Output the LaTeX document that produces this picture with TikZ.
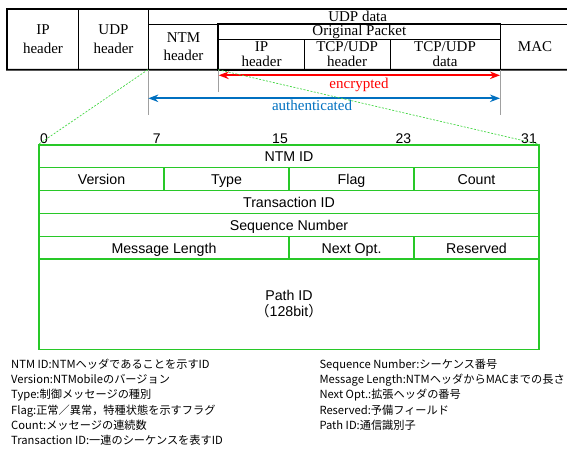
\documentclass[tikz,border=0pt]{standalone}
\usepackage{fontspec}
\setmainfont{Liberation Serif}
\setsansfont{Liberation Sans}
\newfontfamily\cjk{Noto Sans CJK JP}
\usetikzlibrary{arrows.meta}
\definecolor{grn}{RGB}{40,200,40}
\definecolor{dgrn}{RGB}{70,215,70}
\definecolor{ablue}{RGB}{0,112,192}
\definecolor{tickgray}{RGB}{160,160,160}
\begin{document}
\begin{tikzpicture}[x=1pt,y=-1pt,
  cell/.style={draw, line width=0.8pt, inner sep=0pt, align=center, font=\fontsize{15}{18.5}\selectfont},
  icell/.style={cell, font=\fontsize{15}{14.5}\selectfont},
  fld/.style={draw=grn, line width=1.2pt, inner sep=0pt, align=center, text height=14pt, text depth=3pt, font=\sffamily\fontsize{14.2}{16.5}\selectfont},
  num/.style={font=\sffamily\fontsize{14}{16}\selectfont, inner sep=0pt, text height=10pt, text depth=0pt},
  note/.style={font=\cjk\fontsize{11.2}{14}\selectfont, anchor=base west, inner sep=0pt},
  tickline/.style={draw=tickgray, line width=0.8pt},
  dbl/.style={{Stealth[length=10pt,width=7.5pt]}-{Stealth[length=10pt,width=7.5pt]}, line width=1.8pt},
  lbl/.style={font=\fontsize{15}{18}\selectfont, inner sep=0pt, text height=10.5pt, text depth=3pt},
  zoomline/.style={draw=dgrn, line width=0.7pt, dash pattern=on 2pt off 1.5pt}
]
\useasboundingbox (0,0) rectangle (567,450);

% ---- top packet table ----
\node[cell, minimum width=71.4pt, minimum height=60pt] (iph) at (43,39.3) {IP\\header};
\node[cell, minimum width=69.6pt, minimum height=60pt] (udph) at (113.5,39.3) {UDP\\header};
\node[cell, minimum width=418.7pt, minimum height=14.7pt] (udpd) at (357.65,16.65) {UDP data};
\node[cell, minimum width=70.4pt, minimum height=45.3pt] (ntm) at (183.5,46.65) {NTM\\header};
\node[cell, minimum width=281.3pt, minimum height=15.3pt] (orig) at (359.35,31.65) {Original Packet};
\node[icell, minimum width=85.6pt, minimum height=30pt] (oip) at (261.5,54.3) {IP\\header};
\node[icell, minimum width=85.7pt, minimum height=30pt] (tcph) at (347.15,54.3) {TCP/UDP\\header};
\node[icell, minimum width=110pt, minimum height=30pt] (tcpd) at (445,54.3) {TCP/UDP\\data};
\node[cell, minimum width=67pt, minimum height=45.3pt, text width=67pt, align=center] (mac) at (533.5,46.65) {\hspace*{3pt}MAC};
\draw[line width=1.8pt] (udpd.north east) -- (iph.north west) -- (iph.south west) -- (mac.south east);
\draw[line width=1.8pt] (orig.north west) rectangle (tcpd.south east);

% ---- range ticks and arrows ----
\draw[tickline] (ntm.south west) -- ++(0,45.7) coordinate (ta);
\draw[tickline] (oip.south west) -- ++(0,22.7) coordinate (tb);
\draw[tickline] (tcpd.south east) -- ++(0,45.7) coordinate (tc);
\coordinate (ea) at (218.7,75.3);
\coordinate (eb) at (500,75.3);
\coordinate (aa) at (148.3,98.3);
\coordinate (ab) at (500,98.3);
\draw[dbl, red] (ea) -- (eb);
\draw[dbl, ablue] (aa) -- (ab);
\node[lbl, text=red] (enc) at (359,84.5) {encrypted};
\node[lbl, text=ablue] (auth) at (312,107) {authenticated};

% ---- bit numbers ----
\node[num] (b0) at (44,138) {0};
\node[num] (b7) at (156.7,138) {7};
\node[num] (b15) at (280,138) {15};
\node[num] (b23) at (403.3,138) {23};
\node[num] (b31) at (529,138) {31};

% ---- NTM header fields ----
\node[fld, minimum width=500pt, minimum height=22.8pt] (ntmid) at (289,156.4) {NTM ID};
\node[fld, minimum width=125pt, minimum height=22.8pt] (ver) at (101.5,179.2) {Version};
\node[fld, minimum width=125pt, minimum height=22.8pt] (typ) at (226.5,179.2) {Type};
\node[fld, minimum width=125pt, minimum height=22.8pt] (flg) at (351.5,179.2) {Flag};
\node[fld, minimum width=125pt, minimum height=22.8pt] (cnt) at (476.5,179.2) {Count};
\node[fld, minimum width=500pt, minimum height=22.8pt] (trans) at (289,202) {Transaction ID};
\node[fld, minimum width=500pt, minimum height=22.8pt] (seq) at (289,224.8) {Sequence Number};
\node[fld, minimum width=250pt, minimum height=22.8pt] (mlen) at (164,247.6) {Message Length};
\node[fld, minimum width=125pt, minimum height=22.8pt] (nopt) at (351.5,247.6) {Next Opt.};
\node[fld, minimum width=125pt, minimum height=22.8pt] (resv) at (476.5,247.6) {Reserved};
\node[fld, minimum width=500pt, minimum height=90.3pt, text height=, text depth=] (path) at (289,304.15) {Path ID\\{\cjk （}128bit{\cjk ）}};

% ---- zoom lines ----
\draw[zoomline] (ntm.south west) -- (ntmid.north west);
\draw[zoomline] (oip.south west) -- (ntmid.north east);

% ---- notes ----
\node[note] (l1) at (11,368.5) {NTM ID:NTMヘッダであることを示すID};
\node[note] (l2) at (11,383.7) {Version:NTMobileのバージョン};
\node[note] (l3) at (11,398.9) {Type:制御メッセージの種別};
\node[note] (l4) at (11,414.1) {Flag:正常／異常，特種状態を示すフラグ};
\node[note] (l5) at (11,429.3) {Count:メッセージの連続数};
\node[note] (l6) at (11,444.5) {Transaction ID:一連のシーケンスを表すID};
\node[note] (r1) at (319.3,368.5) {Sequence Number:シーケンス番号};
\node[note] (r2) at (319.3,383.7) {Message Length:NTMヘッダからMACまでの長さ};
\node[note] (r3) at (319.3,398.9) {Next Opt.:拡張ヘッダの番号};
\node[note] (r4) at (319.3,414.1) {Reserved:予備フィールド};
\node[note] (r5) at (319.3,429.3) {Path ID:通信識別子};
\end{tikzpicture}
\end{document}
